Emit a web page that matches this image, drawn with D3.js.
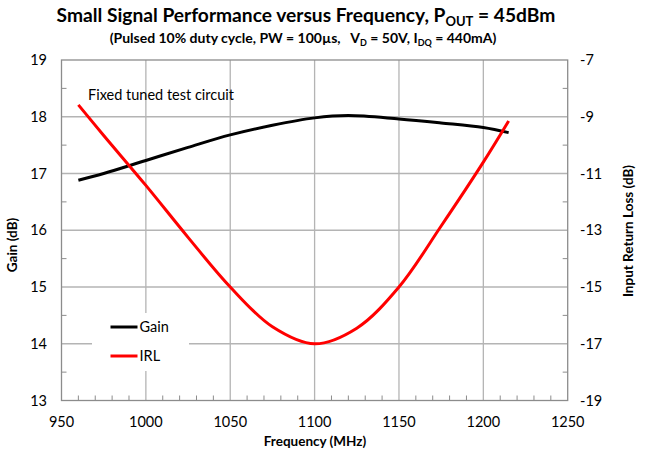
<!DOCTYPE html>
<html>
<head>
<meta charset="utf-8">
<script src="https://cdn.jsdelivr.net/npm/d3@7"></script>
<style>
  body { margin: 0; background: #fff; }
  text { font-family: Lato, "Liberation Sans", sans-serif; fill: #000; }
</style>
</head>
<body>
<script>
// chart data
var freqGain = [960, 975, 1000, 1025, 1050, 1075, 1100, 1120, 1150, 1175, 1200, 1215];
var gainVals = [16.88, 17.0, 17.23, 17.46, 17.68, 17.85, 17.98, 18.02, 17.96, 17.89, 17.81, 17.72];

var freqIrl = [960, 975, 1000, 1025, 1050, 1075, 1100, 1125, 1150, 1175, 1200, 1215];
var irlVals = [-8.58, -9.66, -11.42, -13.25, -15.0, -16.4, -17.0, -16.45, -15.0, -12.85, -10.6, -9.15];

var xTicks = [950, 1000, 1050, 1100, 1150, 1200, 1250];
var gainTicks = [13, 14, 15, 16, 17, 18, 19];
var irlTicks = [-19, -17, -15, -13, -11, -9, -7];

var width = 645, height = 455;
var pl = 61.5, pr = 567.7, pt = 60, pb = 400.5;

var svg = d3.select("body").append("svg")
  .attr("width", width)
  .attr("height", height);

var x = d3.scaleLinear().domain([950, 1250]).range([pl, pr]);
var y = d3.scaleLinear().domain([13, 19]).range([pb, pt]);
var y2 = d3.scaleLinear().domain([-19, -7]).range([pb, pt]);

// grid
var grid = svg.append("g").attr("stroke", "#b4b4b4").attr("stroke-width", 1.3);
grid.selectAll(".vg").data(xTicks.slice(1, -1)).enter().append("line")
  .attr("x1", d => x(d)).attr("x2", d => x(d))
  .attr("y1", pt).attr("y2", pb);
grid.selectAll(".hg").data(gainTicks.slice(1, -1)).enter().append("line")
  .attr("x1", pl).attr("x2", pr)
  .attr("y1", d => y(d)).attr("y2", d => y(d));

// minor ticks (inside)
var minor = svg.append("g").attr("stroke", "#8c8c8c").attr("stroke-width", 1);
minor.selectAll(".mx").data(d3.range(960, 1250, 10).filter(d => d % 50 != 0)).enter().append("line")
  .attr("x1", d => x(d)).attr("x2", d => x(d))
  .attr("y1", pb).attr("y2", pb - 5);
var halfs = d3.range(13.5, 19, 1);
minor.selectAll(".ml").data(halfs).enter().append("line")
  .attr("x1", pl).attr("x2", pl + 5)
  .attr("y1", d => y(d)).attr("y2", d => y(d));
minor.selectAll(".mr").data(halfs).enter().append("line")
  .attr("x1", pr).attr("x2", pr - 5)
  .attr("y1", d => y(d)).attr("y2", d => y(d));

// frame
svg.append("rect")
  .attr("x", pl).attr("y", pt)
  .attr("width", pr - pl).attr("height", pb - pt)
  .attr("fill", "none").attr("stroke", "#8c8c8c").attr("stroke-width", 1.3);

// tick labels
svg.selectAll(".xl").data(xTicks).enter().append("text")
  .attr("x", d => x(d)).attr("y", 427)
  .attr("text-anchor", "middle").attr("font-size", 14.5)
  .text(d => d);
svg.selectAll(".yl").data(gainTicks).enter().append("text")
  .attr("x", 47).attr("y", d => y(d) + 5)
  .attr("text-anchor", "end").attr("font-size", 14.5)
  .text(d => d);
svg.selectAll(".y2l").data(irlTicks).enter().append("text")
  .attr("x", 580).attr("y", d => y2(d) + 5)
  .attr("text-anchor", "start").attr("font-size", 14.5)
  .text(d => d);

// axis titles
svg.append("text")
  .attr("x", 315).attr("y", 446)
  .attr("text-anchor", "middle").attr("font-size", 13.5).attr("font-weight", "bold")
  .text("Frequency (MHz)");
svg.append("text")
  .attr("transform", "translate(17,245) rotate(-90)")
  .attr("text-anchor", "middle").attr("font-size", 13.5).attr("font-weight", "bold")
  .text("Gain (dB)");
svg.append("text")
  .attr("transform", "translate(633,231) rotate(-90)")
  .attr("text-anchor", "middle").attr("font-size", 13.5).attr("font-weight", "bold")
  .text("Input Return Loss (dB)");

// titles
var t1 = svg.append("text")
  .attr("x", 306).attr("y", 22)
  .attr("text-anchor", "middle").attr("font-size", 19.2).attr("font-weight", "bold");
t1.append("tspan").text("Small Signal Performance versus Frequency, P");
t1.append("tspan").attr("font-size", 13).attr("dy", 4).text("OUT");
t1.append("tspan").attr("dy", -4).text(" = 45dBm");

var t2 = svg.append("text")
  .attr("x", 303).attr("y", 43)
  .attr("text-anchor", "middle").attr("font-size", 14).attr("font-weight", "bold")
  .attr("xml:space", "preserve");
t2.append("tspan").text("(Pulsed 10% duty cycle, PW = 100\u00b5s,   V");
t2.append("tspan").attr("font-size", 9).attr("dy", 3).text("D");
t2.append("tspan").attr("dy", -3).text(" = 50V, I");
t2.append("tspan").attr("font-size", 9).attr("dy", 3).text("DQ");
t2.append("tspan").attr("dy", -3).text(" = 440mA)");

// series
var lineGain = d3.line()
  .x((d, i) => x(freqGain[i])).y(d => y(d))
  .curve(d3.curveCatmullRom);
var lineIrl = d3.line()
  .x((d, i) => x(freqIrl[i])).y(d => y2(d))
  .curve(d3.curveCatmullRom);

svg.append("path").datum(gainVals)
  .attr("d", lineGain)
  .attr("fill", "none").attr("stroke", "#000").attr("stroke-width", 3);
svg.append("path").datum(irlVals)
  .attr("d", lineIrl)
  .attr("fill", "none").attr("stroke", "#ff0000").attr("stroke-width", 3);

// annotation
svg.append("text")
  .attr("x", 88).attr("y", 99.5).attr("font-size", 14.5)
  .text("Fixed tuned test circuit");

// legend
var leg = svg.append("g");
leg.append("rect")
  .attr("x", 92).attr("y", 313).attr("width", 97).attr("height", 58)
  .attr("fill", "#fff");
var legItems = [["Gain", "#000", 327], ["IRL", "#ff0000", 356]];
legItems.forEach(function(it) {
  leg.append("line")
    .attr("x1", 110.5).attr("x2", 137.5)
    .attr("y1", it[2]).attr("y2", it[2])
    .attr("stroke", it[1]).attr("stroke-width", 3);
  leg.append("text")
    .attr("x", 139.5).attr("y", it[2] + 5).attr("font-size", 14.5)
    .text(it[0]);
});
</script>
</body>
</html>
